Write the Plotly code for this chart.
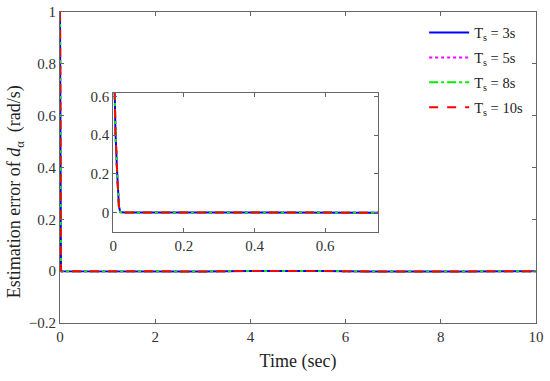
import plotly.graph_objects as go

# Time (sec)
t = [0, 0.003, 0.006, 0.011, 0.016, 0.02, 0.03, 0.1, 0.5, 1, 2, 3, 4, 4.7, 5.5, 6.5, 7.5, 8.5, 9.5, 10]
# Estimation errors for each settling time
err_ts3 = [1.0, 0.63, 0.42, 0.2, 0.03, 0.003, 0.0, 0.0, -0.0005, -0.001, -0.002, -0.001, 0.001, 0.002, 0.001, -0.001, -0.002, -0.001, 0.0, 0.0]
err_ts5 = [1.0, 0.63, 0.42, 0.2, 0.03, 0.003, 0.0, 0.0, -0.0005, -0.001, -0.002, -0.001, 0.001, 0.002, 0.001, -0.001, -0.002, -0.001, 0.0, 0.0]
err_ts8 = [1.0, 0.63, 0.42, 0.2, 0.03, 0.003, 0.0, 0.0, -0.0005, -0.001, -0.002, -0.001, 0.001, 0.002, 0.001, -0.001, -0.002, -0.001, 0.0, 0.0]
err_ts10 = [1.0, 0.63, 0.42, 0.2, 0.03, 0.003, 0.0, 0.0, -0.0005, -0.001, -0.002, -0.001, 0.001, 0.002, 0.001, -0.001, -0.002, -0.001, 0.0, 0.0]

names = ["T<sub>s</sub> = 3s", "T<sub>s</sub> = 5s", "T<sub>s</sub> = 8s", "T<sub>s</sub> = 10s"]
series = [err_ts3, err_ts5, err_ts8, err_ts10]
colors = ["#0000ff", "#ff00ff", "#00ee00", "#ff0000"]
dashes = ["solid", "dot", "dashdot", "dash"]

FONT = "Liberation Serif, Times New Roman, Times, serif"
AX = "#666666"

fig = go.Figure()
for i, (nm, y, c, d) in enumerate(zip(names, series, colors, dashes)):
    fig.add_trace(go.Scatter(x=t, y=y, mode="lines", name=nm, legendgroup=f"g{i}",
                             line=dict(color=c, dash=d, width=2),
                             xaxis="x", yaxis="y"))
for i, (nm, y, c, d) in enumerate(zip(names, series, colors, dashes)):
    fig.add_trace(go.Scatter(x=t, y=y, mode="lines", name=nm, showlegend=False,
                             legendgroup=f"g{i}",
                             line=dict(color=c, dash=d, width=2),
                             xaxis="x2", yaxis="y2"))

axis_common = dict(showline=True, linecolor=AX, linewidth=1, mirror="ticks",
                   ticks="inside", ticklen=4, tickcolor=AX, showgrid=False,
                   zeroline=False, automargin=False,
                   tickfont=dict(family=FONT, size=15, color="#333333"))

fig.update_layout(
    width=550, height=381,
    margin=dict(l=60, r=14, t=12, b=58),
    paper_bgcolor="white", plot_bgcolor="white",
    font=dict(family=FONT, color="#222222"),
    xaxis=dict(range=[0, 10], tickvals=[0, 2, 4, 6, 8, 10], domain=[0, 1],
               title=dict(text="Time (sec)", font=dict(family=FONT, size=18), standoff=10),
               **axis_common),
    yaxis=dict(range=[-0.2, 1], tickvals=[-0.2, 0, 0.2, 0.4, 0.6, 0.8, 1],
               ticktext=["\u22120.2", "0", "0.2", "0.4", "0.6", "0.8", "1"], domain=[0, 1],
               **axis_common),
    xaxis2=dict(range=[0, 0.75], tickvals=[0, 0.2, 0.4, 0.6], domain=[0.112, 0.6685],
                anchor="y2", **axis_common),
    yaxis2=dict(range=[-0.098, 0.62], tickvals=[0, 0.2, 0.4, 0.6], domain=[0.294, 0.741],
                anchor="x2", **axis_common),
    legend=dict(x=0.765, y=0.985, xanchor="left", yanchor="top",
                bgcolor="rgba(255,255,255,0)", font=dict(family=FONT, size=14.5, color="#222222"),
                itemwidth=40, tracegroupgap=3, traceorder="grouped"),
    showlegend=True,
    annotations=[dict(text="Estimation error of <i>d</i><sub>\u03b1</sub>  (rad/s)",
                      xref="paper", yref="paper", x=-0.094, y=0.421,
                      xanchor="center", yanchor="middle", textangle=-90, showarrow=False,
                      font=dict(family=FONT, size=18, color="#222222"))],
)

fig.write_html("out.html", config={"displayModeBar": False},
               post_script="document.body.style.margin='0';document.body.style.padding='0';")
